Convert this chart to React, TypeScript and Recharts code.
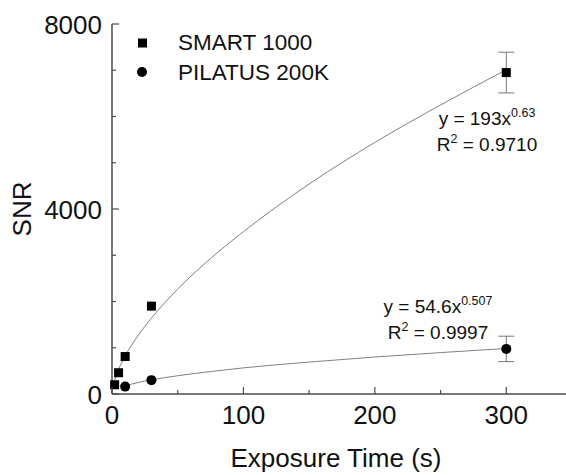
import React from "react";
import {
  ComposedChart,
  ErrorBar,
  Legend,
  Line,
  Scatter,
  XAxis,
  YAxis,
} from "recharts";

// measured points (exposure time in s, SNR)
const smartTime = [2, 5, 10, 30, 300];
const smartSnr = [200, 460, 810, 1900, 6950];
const smartErr = [0, 0, 0, 0, 440];

const pilatusTime = [10, 30, 300];
const pilatusSnr = [160, 300, 975];
const pilatusErr = [0, 0, 275];

// power-law fit curves
const smartFitTime = [2, 5, 10, 20, 30, 50, 75, 100, 150, 200, 250, 300];
const smartFitSnr = [300, 530, 820, 1270, 1640, 2270, 2930, 3510, 4540, 5440, 6250, 7010];
const pilatusFitTime = [10, 20, 30, 50, 75, 100, 150, 200, 250, 300];
const pilatusFitSnr = [175, 250, 305, 395, 485, 565, 690, 800, 895, 985];

const xTicks = [0, 50, 100, 150, 200, 250, 300, 350];
const yTicks = [0, 1000, 2000, 3000, 4000, 5000, 6000, 7000, 8000];

const FONT = "'Liberation Sans', Arial, sans-serif";
const AXIS = "#4d4d4d";

const zip = (t: number[], v: number[], e?: number[]) =>
  t.map((time, i) => ({ t: time, snr: v[i], err: e ? e[i] : 0 }));

const smartData = zip(smartTime, smartSnr, smartErr);
const pilatusData = zip(pilatusTime, pilatusSnr, pilatusErr);
const smartFit = zip(smartFitTime, smartFitSnr);
const pilatusFit = zip(pilatusFitTime, pilatusFitSnr);

const XTick = ({ x, y, payload }: any) => {
  const major = payload.value % 100 === 0;
  return (
    <g>
      <line x1={x} x2={x} y1={y} y2={y - (major ? 7 : 4)} stroke={AXIS} strokeWidth={1.2} />
      {major && (
        <text x={x} y={y + 30} textAnchor="middle" fontSize={26} fontFamily={FONT} fill="#111">
          {payload.value}
        </text>
      )}
    </g>
  );
};

const YTick = ({ x, y, payload }: any) => {
  const major = payload.value % 4000 === 0;
  return (
    <g>
      <line x1={x} x2={x + (major ? 7 : 4)} y1={y} y2={y} stroke={AXIS} strokeWidth={1.2} />
      {major && (
        <text x={x - 10} y={y + 9.5} textAnchor="end" fontSize={26} fontFamily={FONT} fill="#111">
          {payload.value}
        </text>
      )}
    </g>
  );
};

const Square = ({ cx, cy }: any) => (
  <rect x={cx - 4.5} y={cy - 4.5} width={9} height={9} fill="#000" />
);
const Dot = ({ cx, cy }: any) => <circle cx={cx} cy={cy} r={5} fill="#000" />;

const LegendBox = () => (
  <svg width={260} height={64} style={{ overflow: "visible" }}>
    <rect x={8} y={10.5} width={9} height={9} fill="#000" />
    <text x={48} y={22} fontSize={22.5} fontFamily={FONT} fill="#111">
      SMART 1000
    </text>
    <circle cx={12} cy={44} r={5} fill="#000" />
    <text x={48} y={52} fontSize={22.5} fontFamily={FONT} fill="#111">
      PILATUS 200K
    </text>
  </svg>
);

const FitNote = ({ x, y, a, b, r2 }: { x: number; y: number; a: string; b: string; r2: string }) => (
  <g fontFamily={FONT} fill="#111">
    <text x={x} y={y} textAnchor="middle" fontSize={19}>
      <tspan>y = {a}x</tspan>
      <tspan dy={-8} fontSize={12.5}>{b}</tspan>
    </text>
    <text x={x} y={y + 26} textAnchor="middle" fontSize={19}>
      <tspan>R</tspan>
      <tspan dy={-8} fontSize={12.5}>2</tspan>
      <tspan dy={8}> = {r2}</tspan>
    </text>
  </g>
);

export default function App() {
  return (
    <div style={{ position: "absolute", left: 0, top: 0, width: 566, height: 475, overflow: "hidden", background: "#fff" }}>
      <ComposedChart width={580} height={475} margin={{ top: 24, right: 8, bottom: 0, left: 0 }}>
        <XAxis
          dataKey="t"
          type="number"
          domain={[0, 350]}
          ticks={xTicks}
          height={81}
          tickSize={0}
          tickMargin={0}
          tickLine={false}
          axisLine={{ stroke: AXIS, strokeWidth: 1.5 }}
          tick={<XTick />}
          interval={0}
          label={{
            value: "Exposure Time (s)",
            position: "insideBottom",
            offset: 8,
            dx: -6,
            style: { fontSize: 26, fontFamily: FONT, fill: "#111" },
          }}
        />
        <XAxis
          xAxisId="top"
          orientation="top"
          type="number"
          domain={[0, 350]}
          height={0}
          tick={false}
          tickLine={false}
          axisLine={{ stroke: AXIS, strokeWidth: 2 }}
        />
        <YAxis
          type="number"
          domain={[0, 8000]}
          ticks={yTicks}
          width={112}
          tickSize={0}
          tickMargin={0}
          tickLine={false}
          axisLine={{ stroke: AXIS, strokeWidth: 1.5 }}
          tick={<YTick />}
          interval={0}
          label={{
            value: "SNR",
            angle: -90,
            position: "insideLeft",
            offset: 22,
            style: { fontSize: 26, fontFamily: FONT, fill: "#111", textAnchor: "middle" },
          }}
        />
        <Legend
          layout="vertical"
          align="center"
          verticalAlign="middle"
          wrapperStyle={{ top: 28, left: 130, width: 260, height: 64 }}
          content={() => <LegendBox />}
        />
        <Line data={smartFit} dataKey="snr" type="monotone" stroke="#808080" strokeWidth={1} dot={false} isAnimationActive={false} legendType="none" />
        <Line data={pilatusFit} dataKey="snr" type="monotone" stroke="#808080" strokeWidth={1} dot={false} isAnimationActive={false} legendType="none" />
        <Scatter name="SMART 1000" data={smartData} dataKey="snr" shape={<Square />} isAnimationActive={false}>
          <ErrorBar dataKey="err" direction="y" width={8} stroke="#777" strokeWidth={1} />
        </Scatter>
        <Scatter name="PILATUS 200K" data={pilatusData} dataKey="snr" shape={<Dot />} isAnimationActive={false}>
          <ErrorBar dataKey="err" direction="y" width={8} stroke="#777" strokeWidth={1} />
        </Scatter>
      </ComposedChart>
      <svg width={566} height={475} style={{ position: "absolute", left: 0, top: 0, pointerEvents: "none" }}>
        <FitNote x={487} y={125} a="193" b="0.63" r2="0.9710" />
        <FitNote x={438} y={313} a="54.6" b="0.507" r2="0.9997" />
      </svg>
    </div>
  );
}
